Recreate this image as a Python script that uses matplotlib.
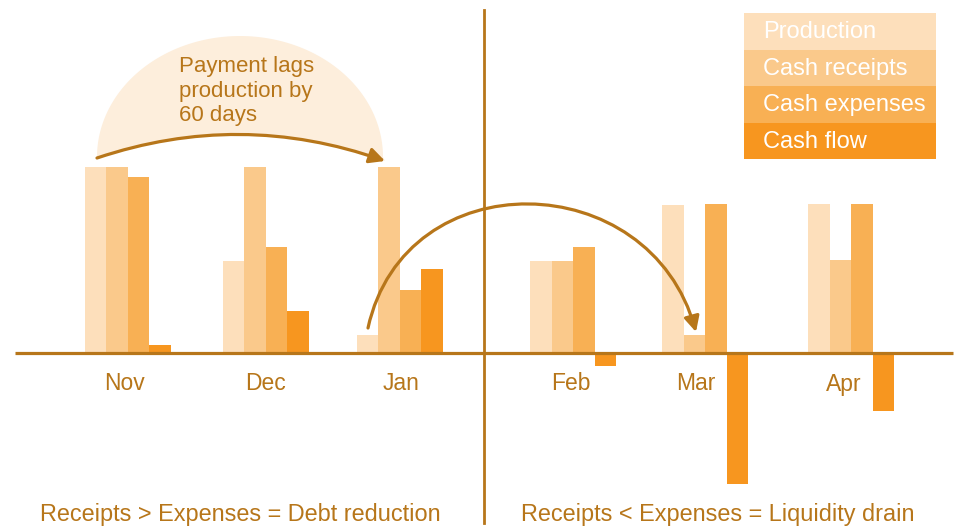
import matplotlib
matplotlib.use('Agg')
import matplotlib.pyplot as plt
import numpy as np
from matplotlib.patches import Rectangle, FancyArrowPatch, Polygon
from matplotlib.path import Path

# ---------------- data ----------------
months = ['Nov', 'Dec', 'Jan', 'Feb', 'Mar', 'Apr']
production = [186, 92, 18, 92, 148, 149]
receipts = [186, 186, 186, 92, 18, 93]
expenses = [176, 106, 63, 106, 149, 149]
cash_flow = [8, 42, 84, -13, -131, -58]
series_names = ['Production', 'Cash receipts', 'Cash expenses', 'Cash flow']
left_note = 'Receipts > Expenses = Debt reduction'
right_note = 'Receipts < Expenses = Liquidity drain'
annotation = 'Payment lags\nproduction by\n60 days'

# ---------------- layout ----------------
colors = ['#FDDFBB', '#FAC98B', '#F8B054', '#F7961F']
brown = '#B7761A'
bubble = '#FDEEDC'
group_x = np.array([127.5, 265.5, 399.5, 573, 705, 851])
label_x = [124, 265, 401, 571, 696, 844]
bar_w = 21.5
offsets = [-1.5, -0.5, 0.5, 1.5]

W, H = 955, 527
BASE = 353  # pixel row of zero line


def py(p):
    return BASE - p


plt.rcParams['font.family'] = ['Liberation Sans', 'DejaVu Sans']
fig = plt.figure(figsize=(9.55, 5.27), dpi=100)
ax = fig.add_axes([0, 0, 1, 1])
ax.set_xlim(0, W)
ax.set_ylim(BASE - H, BASE)
ax.axis('off')

# bubble behind first arrow
def quad(p0, p1, p2, n=80):
    t = np.linspace(0, 1, n)[:, None]
    p0, p1, p2 = map(np.array, (p0, p1, p2))
    return (1 - t) ** 2 * p0 + 2 * t * (1 - t) * p1 + t ** 2 * p2

a1 = [(97, py(158)), (240, py(110)), (385, py(161))]
th = np.linspace(np.pi, 0, 100)
cx, cy, ea, eb = 240, py(157), 143, 121
arc = np.column_stack([cx + ea * np.cos(th), cy + eb * np.sin(th)])
curve = quad(*a1)[::-1]
ax.add_patch(Polygon(np.vstack([arc, curve]), closed=True, facecolor=bubble,
                     edgecolor='none', zorder=1))

# bars
series = [production, receipts, expenses, cash_flow]
for vals, off, col in zip(series, offsets, colors):
    ax.bar(group_x + off * bar_w, vals, width=bar_w, color=col,
           linewidth=0, zorder=2)

# axis lines
ax.plot([15, 953], [0, 0], color=brown, lw=2.3, zorder=2.5, solid_capstyle='butt')
ax.plot([484, 484], [py(10), py(523)], color=brown, lw=2.0, zorder=2.5)

# month labels
for m, x in zip(months, label_x):
    ax.text(x, py(384), m, ha='center', va='center', fontsize=16.5, color=brown)

# arrows
path1 = Path(a1, [Path.MOVETO, Path.CURVE3, Path.CURVE3])
ax.add_patch(FancyArrowPatch(path=path1, arrowstyle='-|>', mutation_scale=23,
                             color=brown, lw=2.3, zorder=3))
a2 = [(368, py(328)), (405, py(160)), (650, py(165)), (696, py(332))]
path2 = Path(a2, [Path.MOVETO, Path.CURVE4, Path.CURVE4, Path.CURVE4])
ax.add_patch(FancyArrowPatch(path=path2, arrowstyle='-|>', mutation_scale=23,
                             color=brown, lw=2.3, zorder=3))

ax.text(179, py(56), annotation, ha='left', va='top', fontsize=16,
        color=brown, linespacing=1.22, zorder=4)

# legend boxes
top, bottom = 13, 159
rh = (bottom - top) / 4
for i, (name, col) in enumerate(zip(series_names, colors)):
    y0 = top + i * rh
    ax.add_patch(Rectangle((744, py(y0 + rh)), 192, rh, facecolor=col,
                           edgecolor='none', zorder=4))
    ax.text(763, py(y0 + rh / 2 + 1), name, ha='left', va='center', fontsize=17,
            color='white', zorder=5)

# bottom notes
ax.text(240, py(514), left_note, ha='center', va='center', fontsize=16.9, color=brown)
ax.text(718, py(514), right_note, ha='center', va='center', fontsize=16.9, color=brown)

fig.savefig('out.png', dpi=100)
